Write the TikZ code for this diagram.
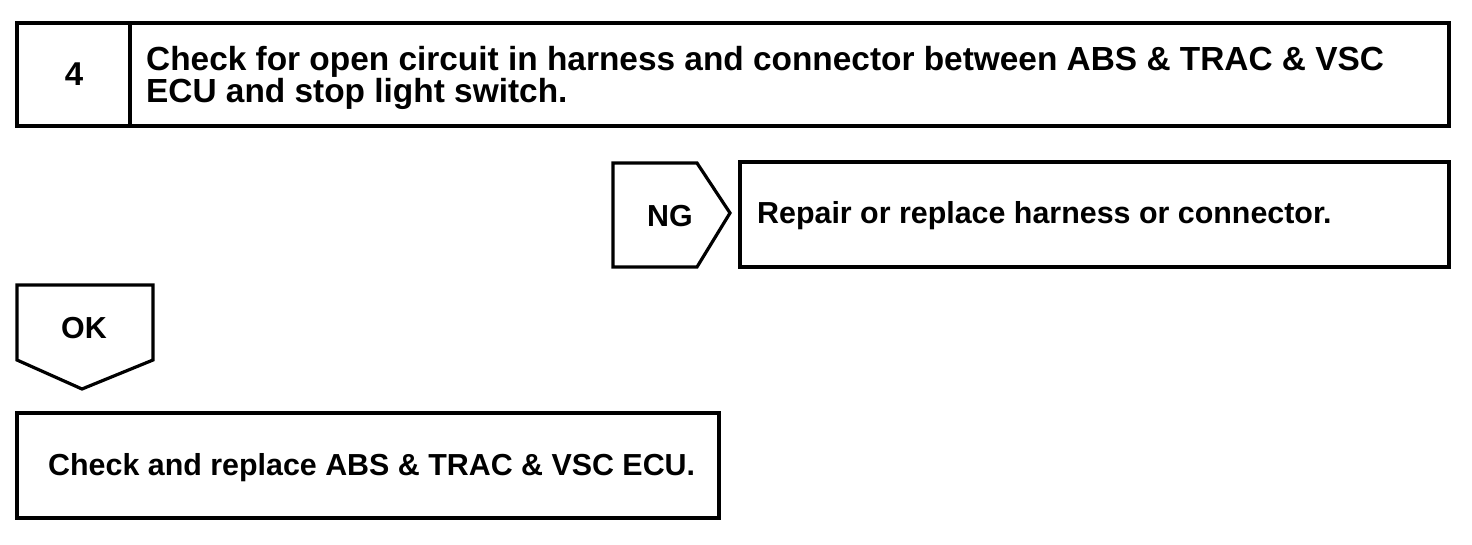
\documentclass[tikz,border=0pt]{standalone}
\usepackage{fontspec}
\setmainfont{Liberation Sans}
\usepackage{tikz}
\usetikzlibrary{positioning}

\begin{document}
\begin{tikzpicture}[x=1pt,y=-1pt]
		\tikzstyle{frame} = [draw=black, line width=3.2pt, line join=miter]
		\tikzstyle{label} = [inner sep=0, font=\bfseries\fontsize{30.4}{30}\selectfont]
		\tikzstyle{title} = [inner sep=0, align=left, anchor=north west, font=\bfseries\fontsize{33.4}{31}\selectfont]
		\useasboundingbox (0,0) rectangle (1472,544);
		% step box
		\draw [frame] (17,23) rectangle (1449,126);
		\draw [frame] (130,23) -- (130,126);
		\node [label, font=\bfseries\fontsize{33}{33}\selectfont] (v_num) at (74,74) {4};
		\node [title] (v_title) at (146,46) {Check for open circuit in harness and connector between ABS \& TRAC \& VSC\\ECU and stop light switch.};
		% NG branch
		\draw [frame] (613,163) -- (697,163) -- (730,213) -- (697,267) -- (613,267) -- cycle;
		\node [label] (v_ng) at (670,216) {NG};
		\draw [frame] (740,162) rectangle (1449,267);
		\node [label, anchor=west] (v_repair) at (757,216) {Repair or replace harness or connector.};
		% OK branch
		\draw [frame] (17,285) -- (153,285) -- (153,360) -- (82,389) -- (17,360) -- cycle;
		\node [label] (v_ok) at (84,328) {OK};
		\draw [frame] (17,413) rectangle (719,518);
		\node [label, anchor=west] (v_ecu) at (48,468) {Check and replace ABS \& TRAC \& VSC ECU.};
\end{tikzpicture}
\end{document}
